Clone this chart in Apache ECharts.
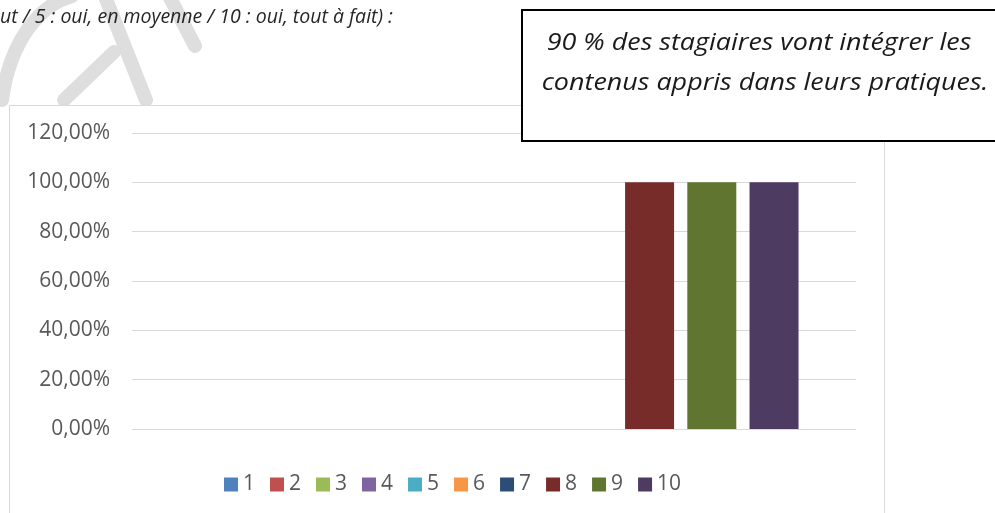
<!DOCTYPE html>
<html>
<head>
<meta charset="utf-8">
<script src="https://cdn.jsdelivr.net/npm/echarts@6/dist/echarts.min.js"></script>
<style>
  html, body { margin: 0; padding: 0; background: #fff; }
  #chart { width: 995px; height: 513px; }
</style>
</head>
<body>
<div id="chart"></div>
<script>
// series = answer level (1 to 10), one category
const seriesNames = ['1', '2', '3', '4', '5', '6', '7', '8', '9', '10'];
const seriesValues = [0, 0, 0, 0, 0, 0, 0, 1, 1, 1];
const colors = ['#4f81bd', '#c0504d', '#9bbb59', '#8064a2', '#4bacc6',
                '#f79646', '#2c4d75', '#772c2a', '#5f7530', '#4d3b62'];
const yTicks = [0, 0.2, 0.4, 0.6, 0.8, 1, 1.2];

const headerText = 'ut / 5 : oui, en moyenne / 10 : oui, tout à fait) :';
const boxLines = ['90 % des stagiaires vont intégrer les',
                  'contenus appris dans leurs pratiques.'];

const fmtPct = v => (v * 100).toFixed(2).replace('.', ',') + '%';

const chart = echarts.init(document.getElementById('chart'));

const wm = {stroke: '#dedede', lineWidth: 14, lineCap: 'round', fill: null};

const option = {
  animation: false,
  color: colors,
  textStyle: {fontFamily: 'Open Sans'},
  grid: {left: 132, right: 139, top: 133, bottom: 84},
  legend: {
    left: 219,
    top: 469,
    itemWidth: 14,
    itemHeight: 14,
    itemGap: 15,
    icon: 'rect',
    textStyle: {color: '#595959', fontSize: 21},
    data: seriesNames
  },
  xAxis: {
    type: 'category',
    data: [''],
    axisLine: {show: false},
    axisTick: {show: false},
    axisLabel: {show: false}
  },
  yAxis: {
    type: 'value',
    min: yTicks[0],
    max: yTicks[yTicks.length - 1],
    interval: 0.2,
    axisLine: {show: false},
    axisTick: {show: false},
    axisLabel: {
      color: '#595959',
      fontSize: 21,
      margin: 22,
      formatter: fmtPct
    },
    splitLine: {lineStyle: {color: '#d9d9d9', width: 1}}
  },
  series: seriesNames.map((name, i) => ({
    name: name,
    type: 'bar',
    barWidth: 49,
    barGap: '27%',
    data: [seriesValues[i]]
  })),
  graphic: [
    // grey watermark strokes behind everything
    {type: 'line', z: -10, shape: {x1: 168, y1: -6, x2: 195, y2: 46}, style: wm},
    {type: 'line', z: -10, shape: {x1: 104, y1: -6, x2: 146, y2: 100}, style: wm},
    {type: 'line', z: -10, shape: {x1: 64, y1: 100, x2: 114, y2: 52}, style: wm},
    {type: 'bezierCurve', z: -10,
     shape: {x1: 2, y1: 100, x2: 72, y2: -4, cpx1: 10, cpy1: 40, cpx2: 40, cpy2: 5},
     style: wm},
    // chart area border
    {type: 'rect', z: -5, shape: {x: 9.5, y: 105.5, width: 875, height: 420},
     style: {fill: '#fff', stroke: '#d9d9d9', lineWidth: 1}},
    // text above the chart
    {type: 'text', x: 0, y: 17, z: 10,
     style: {text: headerText, fill: '#262626', font: 'italic 19.5px "Open Sans"',
             textVerticalAlign: 'middle'}},
    // comment box on top right
    {type: 'rect', z: 20, shape: {x: 522, y: 10, width: 490, height: 131},
     style: {fill: '#fff', stroke: '#000', lineWidth: 2}},
    {type: 'text', x: 759, y: 43, z: 21, scaleX: 1.17,
     style: {text: boxLines[0], fill: '#1a1a1a', font: 'italic 23px "Open Sans"',
             textAlign: 'center', textVerticalAlign: 'middle'}},
    {type: 'text', x: 765, y: 83, z: 21, scaleX: 1.17,
     style: {text: boxLines[1], fill: '#1a1a1a', font: 'italic 23px "Open Sans"',
             textAlign: 'center', textVerticalAlign: 'middle'}}
  ]
};

chart.setOption(option);
</script>
</body>
</html>
